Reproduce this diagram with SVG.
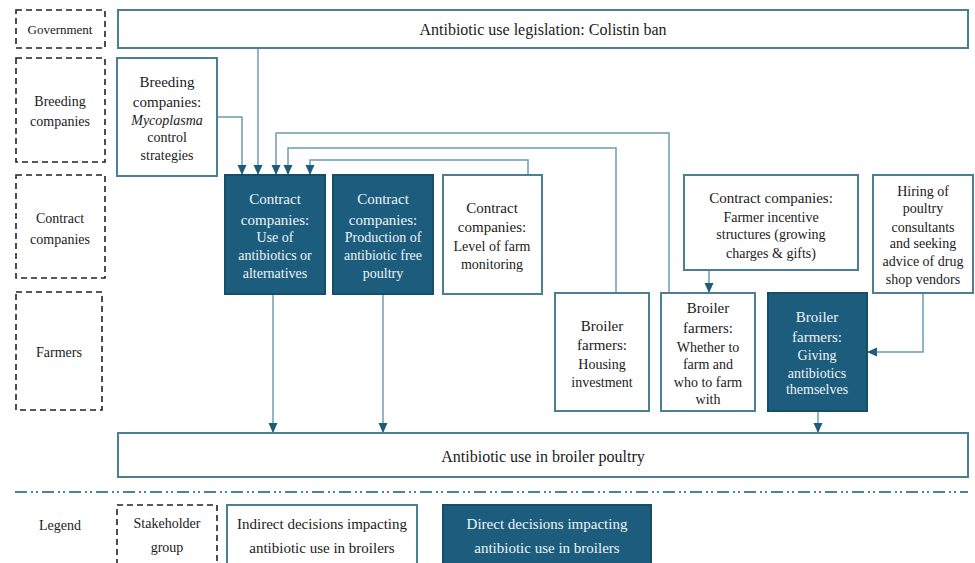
<svg xmlns="http://www.w3.org/2000/svg" width="975" height="563" viewBox="0 0 975 563">
<style>
.stk{fill:none;stroke:#222;stroke-width:1.6;stroke-dasharray:6 4}
.ind{fill:#fff;stroke:#4b7f96;stroke-width:2}
.dir{fill:#1c5c7c;stroke:#164d68;stroke-width:2}
.con{fill:none;stroke:#6e9cb1;stroke-width:1.5}
.sep{fill:none;stroke:#4a83a0;stroke-width:2;stroke-dasharray:12 4 2 3 2 4}
.tk{fill:#1a1a1a}
.tw{fill:#eef4f7}
</style>
<defs>
<marker id="ah" markerUnits="userSpaceOnUse" markerWidth="10" markerHeight="10" viewBox="0 0 10 10" refX="10" refY="5" orient="auto">
<path d="M0,0.5 L10,5 L0,9.5 Z" fill="#1f5c7a"/>
</marker>
</defs>
<rect width="975" height="563" fill="#fff"/>

<g id="sg-government"><rect class="stk" x="16" y="10" width="89" height="38"/>
<text class="tk" style="font-family:'Liberation Serif',serif;font-size:13px;text-anchor:middle" x="60" y="34">Government</text></g>
<g id="sg-breeding"><rect class="stk" x="16" y="58" width="89" height="104"/>
<text class="tk" style="font-family:'Liberation Serif',serif;font-size:14px;text-anchor:middle" x="60" y="106">Breeding</text>
<text class="tk" style="font-family:'Liberation Serif',serif;font-size:14px;text-anchor:middle" x="60" y="126">companies</text></g>
<g id="sg-contract"><rect class="stk" x="16" y="175" width="89" height="103"/>
<text class="tk" style="font-family:'Liberation Serif',serif;font-size:14px;text-anchor:middle" x="60" y="223">Contract</text>
<text class="tk" style="font-family:'Liberation Serif',serif;font-size:14px;text-anchor:middle" x="60" y="244">companies</text></g>
<g id="sg-farmers"><rect class="stk" x="16" y="292" width="86" height="118"/>
<text class="tk" style="font-family:'Liberation Serif',serif;font-size:14px;text-anchor:middle" x="59" y="357">Farmers</text></g>

<g id="connectors">
<path class="con" d="M217,117 H242 V175" marker-end="url(#ah)"/>
<path class="con" d="M258,48 V175" marker-end="url(#ah)"/>
<path class="con" d="M669,293 V133 H276 V175" marker-end="url(#ah)"/>
<path class="con" d="M616,293 V148 H288 V175" marker-end="url(#ah)"/>
<path class="con" d="M528,175 V160 H310 V175" marker-end="url(#ah)"/>
<path class="con" d="M709,270 V293" marker-end="url(#ah)"/>
<path class="con" d="M923,293 V352 H867" marker-end="url(#ah)"/>
<path class="con" d="M273,294 V433" marker-end="url(#ah)"/>
<path class="con" d="M383,294 V433" marker-end="url(#ah)"/>
<path class="con" d="M818,411 V433" marker-end="url(#ah)"/>
</g>

<g id="n-legislation"><rect class="ind" x="118" y="10" width="850" height="38"/>
<text class="tk" style="font-family:'Liberation Serif',serif;font-size:16px;text-anchor:middle" x="543" y="35">Antibiotic use legislation: Colistin ban</text></g>

<g id="n-breeding"><rect class="ind" x="117" y="58" width="100" height="118"/>
<text class="tk" style="font-family:'Liberation Serif',serif;font-size:15px;text-anchor:middle" x="167" y="87">Breeding</text>
<text class="tk" style="font-family:'Liberation Serif',serif;font-size:15px;text-anchor:middle" x="167" y="107">companies:</text>
<text class="tk" style="font-family:'Liberation Serif',serif;font-size:14px;text-anchor:middle;font-style:italic" x="167" y="125">Mycoplasma</text>
<text class="tk" style="font-family:'Liberation Serif',serif;font-size:14px;text-anchor:middle" x="167" y="142">control</text>
<text class="tk" style="font-family:'Liberation Serif',serif;font-size:14px;text-anchor:middle" x="167" y="160">strategies</text></g>

<g id="n-use"><rect class="dir" x="225" y="175" width="100" height="119"/>
<text class="tw" style="font-family:'Liberation Serif',serif;font-size:15px;text-anchor:middle" x="275" y="204">Contract</text>
<text class="tw" style="font-family:'Liberation Serif',serif;font-size:15px;text-anchor:middle" x="275" y="225">companies:</text>
<text class="tw" style="font-family:'Liberation Serif',serif;font-size:14px;text-anchor:middle" x="275" y="242">Use of</text>
<text class="tw" style="font-family:'Liberation Serif',serif;font-size:14px;text-anchor:middle" x="275" y="260">antibiotics or</text>
<text class="tw" style="font-family:'Liberation Serif',serif;font-size:14px;text-anchor:middle" x="275" y="278">alternatives</text></g>

<g id="n-production"><rect class="dir" x="333" y="175" width="100" height="119"/>
<text class="tw" style="font-family:'Liberation Serif',serif;font-size:15px;text-anchor:middle" x="383" y="204">Contract</text>
<text class="tw" style="font-family:'Liberation Serif',serif;font-size:15px;text-anchor:middle" x="383" y="225">companies:</text>
<text class="tw" style="font-family:'Liberation Serif',serif;font-size:14px;text-anchor:middle" x="383" y="242">Production of</text>
<text class="tw" style="font-family:'Liberation Serif',serif;font-size:14px;text-anchor:middle" x="383" y="260">antibiotic free</text>
<text class="tw" style="font-family:'Liberation Serif',serif;font-size:14px;text-anchor:middle" x="383" y="278">poultry</text></g>

<g id="n-monitoring"><rect class="ind" x="443" y="175" width="99" height="119"/>
<text class="tk" style="font-family:'Liberation Serif',serif;font-size:15px;text-anchor:middle" x="492" y="213">Contract</text>
<text class="tk" style="font-family:'Liberation Serif',serif;font-size:15px;text-anchor:middle" x="492" y="232">companies:</text>
<text class="tk" style="font-family:'Liberation Serif',serif;font-size:14px;text-anchor:middle" x="492" y="251">Level of farm</text>
<text class="tk" style="font-family:'Liberation Serif',serif;font-size:14px;text-anchor:middle" x="492" y="269">monitoring</text></g>

<g id="n-incentive"><rect class="ind" x="684" y="175" width="174" height="95"/>
<text class="tk" style="font-family:'Liberation Serif',serif;font-size:15px;text-anchor:middle" x="771" y="203">Contract companies:</text>
<text class="tk" style="font-family:'Liberation Serif',serif;font-size:14px;text-anchor:middle" x="771" y="222">Farmer incentive</text>
<text class="tk" style="font-family:'Liberation Serif',serif;font-size:14px;text-anchor:middle" x="771" y="239">structures (growing</text>
<text class="tk" style="font-family:'Liberation Serif',serif;font-size:14px;text-anchor:middle" x="771" y="258">charges &amp; gifts)</text></g>

<g id="n-hiring"><rect class="ind" x="873" y="175" width="100" height="118"/>
<text class="tk" style="font-family:'Liberation Serif',serif;font-size:14px;text-anchor:middle" x="923" y="196">Hiring of</text>
<text class="tk" style="font-family:'Liberation Serif',serif;font-size:14px;text-anchor:middle" x="923" y="213">poultry</text>
<text class="tk" style="font-family:'Liberation Serif',serif;font-size:14px;text-anchor:middle" x="923" y="232">consultants</text>
<text class="tk" style="font-family:'Liberation Serif',serif;font-size:14px;text-anchor:middle" x="923" y="248">and seeking</text>
<text class="tk" style="font-family:'Liberation Serif',serif;font-size:14px;text-anchor:middle" x="923" y="266">advice of drug</text>
<text class="tk" style="font-family:'Liberation Serif',serif;font-size:14px;text-anchor:middle" x="923" y="284">shop vendors</text></g>

<g id="n-housing"><rect class="ind" x="555" y="293" width="94" height="118"/>
<text class="tk" style="font-family:'Liberation Serif',serif;font-size:15px;text-anchor:middle" x="602" y="331">Broiler</text>
<text class="tk" style="font-family:'Liberation Serif',serif;font-size:15px;text-anchor:middle" x="602" y="350">farmers:</text>
<text class="tk" style="font-family:'Liberation Serif',serif;font-size:14px;text-anchor:middle" x="602" y="369">Housing</text>
<text class="tk" style="font-family:'Liberation Serif',serif;font-size:14px;text-anchor:middle" x="602" y="387">investment</text></g>

<g id="n-whether"><rect class="ind" x="661" y="293" width="94" height="118"/>
<text class="tk" style="font-family:'Liberation Serif',serif;font-size:15px;text-anchor:middle" x="708" y="313">Broiler</text>
<text class="tk" style="font-family:'Liberation Serif',serif;font-size:15px;text-anchor:middle" x="708" y="333">farmers:</text>
<text class="tk" style="font-family:'Liberation Serif',serif;font-size:14px;text-anchor:middle" x="708" y="352">Whether to</text>
<text class="tk" style="font-family:'Liberation Serif',serif;font-size:14px;text-anchor:middle" x="708" y="369">farm and</text>
<text class="tk" style="font-family:'Liberation Serif',serif;font-size:14px;text-anchor:middle" x="708" y="387">who to farm</text>
<text class="tk" style="font-family:'Liberation Serif',serif;font-size:14px;text-anchor:middle" x="708" y="404">with</text></g>

<g id="n-giving"><rect class="dir" x="768" y="293" width="99" height="118"/>
<text class="tw" style="font-family:'Liberation Serif',serif;font-size:15px;text-anchor:middle" x="817" y="322">Broiler</text>
<text class="tw" style="font-family:'Liberation Serif',serif;font-size:15px;text-anchor:middle" x="817" y="342">farmers:</text>
<text class="tw" style="font-family:'Liberation Serif',serif;font-size:14px;text-anchor:middle" x="817" y="360">Giving</text>
<text class="tw" style="font-family:'Liberation Serif',serif;font-size:14px;text-anchor:middle" x="817" y="378">antibiotics</text>
<text class="tw" style="font-family:'Liberation Serif',serif;font-size:14px;text-anchor:middle" x="817" y="394">themselves</text></g>

<g id="n-outcome"><rect class="ind" x="118" y="433" width="850" height="44"/>
<text class="tk" style="font-family:'Liberation Serif',serif;font-size:16px;text-anchor:middle" x="543" y="462">Antibiotic use in broiler poultry</text></g>

<path class="sep" d="M15,492 H968"/>

<g id="legend">
<text class="tk" style="font-family:'Liberation Serif',serif;font-size:14px;text-anchor:middle" x="60" y="530">Legend</text>
<g id="lg-stakeholder"><rect class="stk" x="117" y="505" width="100" height="60"/>
<text class="tk" style="font-family:'Liberation Serif',serif;font-size:14px;text-anchor:middle" x="167" y="528">Stakeholder</text>
<text class="tk" style="font-family:'Liberation Serif',serif;font-size:14px;text-anchor:middle" x="167" y="552">group</text></g>
<g id="lg-indirect"><rect class="ind" x="227" y="505" width="190" height="60"/>
<text class="tk" style="font-family:'Liberation Serif',serif;font-size:15px;text-anchor:middle" x="322" y="529">Indirect decisions impacting</text>
<text class="tk" style="font-family:'Liberation Serif',serif;font-size:15px;text-anchor:middle" x="322" y="553">antibiotic use in broilers</text></g>
<g id="lg-direct"><rect class="dir" x="443" y="505" width="208" height="60"/>
<text class="tw" style="font-family:'Liberation Serif',serif;font-size:15px;text-anchor:middle" x="547" y="529">Direct decisions impacting</text>
<text class="tw" style="font-family:'Liberation Serif',serif;font-size:15px;text-anchor:middle" x="547" y="553">antibiotic use in broilers</text></g>
</g>
</svg>
